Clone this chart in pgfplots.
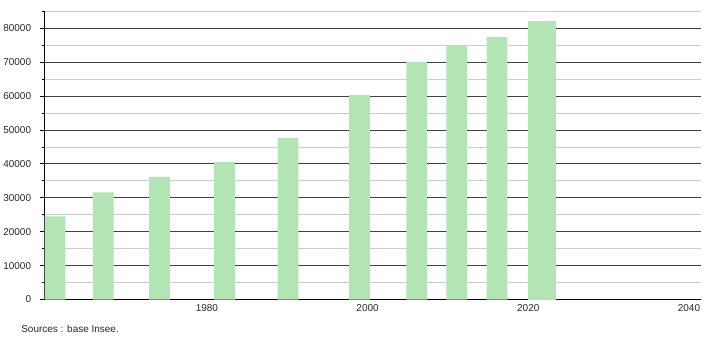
\documentclass[border=0pt]{standalone}
\usepackage{fontspec}
\setmainfont{Liberation Sans}
\usepackage{pgfplots}
\pgfplotsset{compat=1.18}
\definecolor{barg}{HTML}{B2E5B3}
\definecolor{majg}{HTML}{404040}
\definecolor{ming}{HTML}{CCCCCC}
\begin{document}
\begin{tikzpicture}
\begin{axis}[
  scale only axis,
  width=657.5pt, height=288.7pt,
  xmin=1959.8, xmax=2041.5,
  ymin=0, ymax=85000,
  axis x line=bottom, axis y line=left,
  axis line style={black, line width=0.9pt, -},
  xtick={1980,2000,2020,2040},
  ytick={0,10000,...,80000},
  minor ytick={5000,15000,...,85000},
  xtick style={draw=none},
  ytick style={black, line width=0.8pt},
  major tick length=5pt, minor tick length=3pt,
  tick align=outside,
  ymajorgrids, yminorgrids,
  major grid style={majg, line width=0.9pt},
  minor grid style={ming, line width=0.8pt},
  scaled y ticks=false,
  /pgf/number format/assume math mode=true,
  yticklabel={\pgfmathprintnumber[fixed,1000 sep={}]{\tick}},
  xticklabel={\pgfmathprintnumber[fixed,1000 sep={}]{\tick}},
  ticklabel style={font=\fontsize{10}{12}\selectfont, text=black!85},
  yticklabel style={xshift=-5pt},
  xticklabel style={yshift=3.5pt},
]
\addplot[ybar, bar width=20.7pt, fill=barg, draw=none] coordinates {
  (1961.1,24500) (1967.1,31600) (1974.1,36200) (1982.2,40500)
  (1990.1,47700) (1999.0,60300) (2006.1,70000) (2011.1,74900)
  (2016.1,77350)
};
\addplot[ybar, bar width=28.7pt, fill=barg, draw=none] coordinates {
  (2021.7,82050)
};
\end{axis}
\node[anchor=base west, inner sep=0pt, font=\fontsize{10}{12}\selectfont, text=black!85] at (-23.5pt,-33.5pt) {Sources : base Insee.};
\path (-43.5pt,-40pt) rectangle (666.5pt,300pt);
\end{tikzpicture}
\end{document}
